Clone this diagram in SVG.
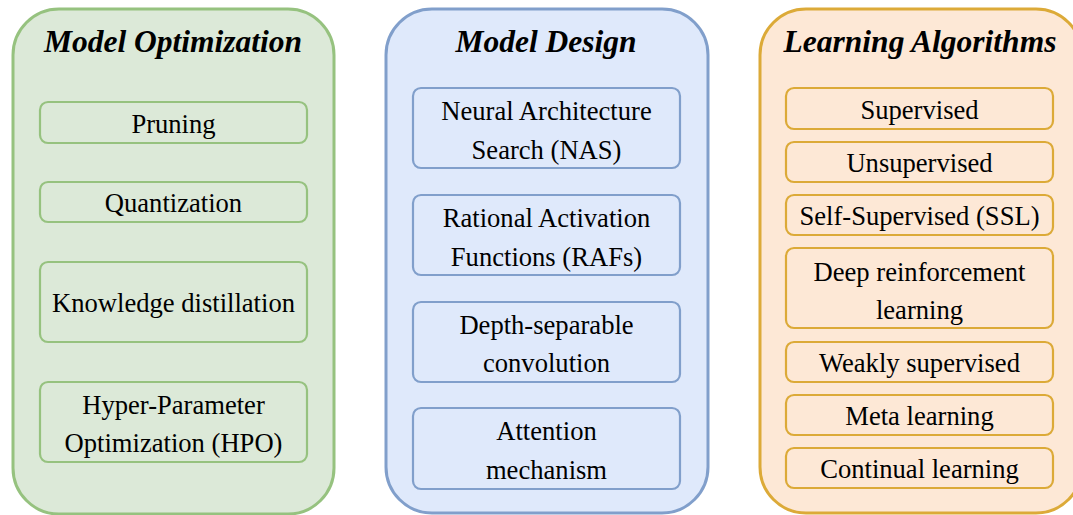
<svg xmlns="http://www.w3.org/2000/svg" width="1073" height="515" viewBox="0 0 1073 515">
<style>
  .t{font-family:"Liberation Serif","Times New Roman",serif;font-size:31.5px;font-weight:bold;font-style:italic;fill:#000;text-anchor:middle}
  .l{font-family:"Liberation Serif","Times New Roman",serif;font-size:26.6px;fill:#000;text-anchor:middle}
  .gC{fill:#dce9d8;stroke:#96c27f;stroke-width:3}
  .gB{fill:#dce9d8;stroke:#96c27f;stroke-width:2.2}
  .bC{fill:#dfe9fb;stroke:#819fcb;stroke-width:3}
  .bB{fill:#dfe9fb;stroke:#819fcb;stroke-width:2.2}
  .oC{fill:#fde8d6;stroke:#dcaa38;stroke-width:3}
  .oB{fill:#fde8d6;stroke:#dcaa38;stroke-width:2.2}
</style>
<rect width="1073" height="515" fill="#ffffff"/>
<g id="connectors"></g>

<g id="model-optimization">
  <rect class="gC" x="13" y="9" width="321" height="505" rx="46"/>
  <text class="t" x="173" y="52">Model Optimization</text>
</g>
<g id="pruning">
  <rect class="gB" x="40" y="102" width="267" height="41" rx="8"/>
  <text class="l" x="173.5" y="132.5">Pruning</text>
</g>
<g id="quantization">
  <rect class="gB" x="40" y="182" width="267" height="40" rx="8"/>
  <text class="l" x="173.5" y="212">Quantization</text>
</g>
<g id="knowledge-distillation">
  <rect class="gB" x="40" y="262" width="267" height="80" rx="8"/>
  <text class="l" x="173.5" y="312">Knowledge distillation</text>
</g>
<g id="hpo">
  <rect class="gB" x="40" y="382" width="267" height="80" rx="8"/>
  <text class="l" x="173.5" y="413.5">Hyper-Parameter</text>
  <text class="l" x="173.5" y="452">Optimization (HPO)</text>
</g>

<g id="model-design">
  <rect class="bC" x="386" y="9" width="322" height="504" rx="46"/>
  <text class="t" x="546" y="52">Model Design</text>
</g>
<g id="nas">
  <rect class="bB" x="413" y="88" width="267" height="80" rx="8"/>
  <text class="l" x="546.5" y="120">Neural Architecture</text>
  <text class="l" x="546.5" y="158.5">Search (NAS)</text>
</g>
<g id="rafs">
  <rect class="bB" x="413" y="195" width="267" height="80" rx="8"/>
  <text class="l" x="546.5" y="227">Rational Activation</text>
  <text class="l" x="546.5" y="265.5">Functions (RAFs)</text>
</g>
<g id="depth-separable">
  <rect class="bB" x="413" y="302" width="267" height="80" rx="8"/>
  <text class="l" x="546.5" y="333.5">Depth-separable</text>
  <text class="l" x="546.5" y="372">convolution</text>
</g>
<g id="attention">
  <rect class="bB" x="413" y="408" width="267" height="81" rx="8"/>
  <text class="l" x="546.5" y="440">Attention</text>
  <text class="l" x="546.5" y="478.5">mechanism</text>
</g>

<g id="learning-algorithms">
  <rect class="oC" x="760" y="9" width="322" height="504" rx="46"/>
  <text class="t" x="920" y="52">Learning Algorithms</text>
</g>
<g id="supervised">
  <rect class="oB" x="786" y="88" width="267" height="41" rx="8"/>
  <text class="l" x="919.5" y="118.5">Supervised</text>
</g>
<g id="unsupervised">
  <rect class="oB" x="786" y="142" width="267" height="40" rx="8"/>
  <text class="l" x="919.5" y="172">Unsupervised</text>
</g>
<g id="ssl">
  <rect class="oB" x="786" y="195" width="267" height="40" rx="8"/>
  <text class="l" x="919.5" y="224.5">Self-Supervised (SSL)</text>
</g>
<g id="deep-rl">
  <rect class="oB" x="786" y="248" width="267" height="80" rx="8"/>
  <text class="l" x="919.5" y="280.5">Deep reinforcement</text>
  <text class="l" x="919.5" y="319">learning</text>
</g>
<g id="weakly">
  <rect class="oB" x="786" y="342" width="267" height="40" rx="8"/>
  <text class="l" x="919.5" y="372">Weakly supervised</text>
</g>
<g id="meta">
  <rect class="oB" x="786" y="395" width="267" height="40" rx="8"/>
  <text class="l" x="919.5" y="425">Meta learning</text>
</g>
<g id="continual">
  <rect class="oB" x="786" y="448" width="267" height="40" rx="8"/>
  <text class="l" x="919.5" y="478">Continual learning</text>
</g>
</svg>
